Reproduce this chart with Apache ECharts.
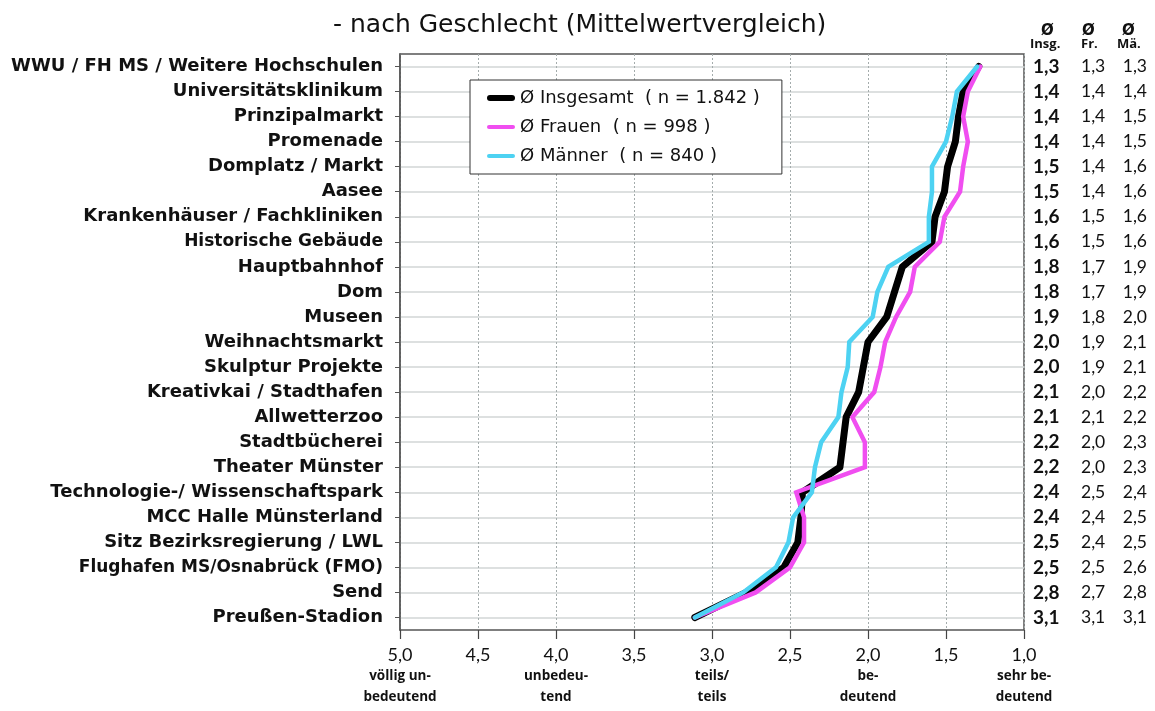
<!DOCTYPE html>
<html>
<head>
<meta charset="utf-8">
<script src="https://cdn.jsdelivr.net/npm/echarts@6/dist/echarts.min.js"></script>
<style>
  html, body { margin: 0; padding: 0; background: #fff; }
  #chart { width: 1155px; height: 711px; }
</style>
<title>Mittelwertvergleich</title>
</head>
<body>
<div id="chart"></div>
<script type="text/javascript">
// Kategorien von oben nach unten
var categories = ['WWU / FH MS / Weitere Hochschulen', 'Universitätsklinikum', 'Prinzipalmarkt', 'Promenade',
  'Domplatz / Markt', 'Aasee', 'Krankenhäuser / Fachkliniken', 'Historische Gebäude', 'Hauptbahnhof', 'Dom',
  'Museen', 'Weihnachtsmarkt', 'Skulptur Projekte', 'Kreativkai / Stadthafen', 'Allwetterzoo', 'Stadtbücherei',
  'Theater Münster', 'Technologie-/ Wissenschaftspark', 'MCC Halle Münsterland', 'Sitz Bezirksregierung / LWL',
  'Flughafen MS/Osnabrück (FMO)', 'Send', 'Preußen-Stadion'];

// Mittelwerte
var insgesamt = [1.29, 1.39, 1.42, 1.44, 1.49, 1.51, 1.57, 1.59, 1.78, 1.83, 1.88, 2.00, 2.03, 2.06, 2.14, 2.16, 2.18, 2.42, 2.43, 2.45, 2.54, 2.78, 3.11];
var frauen    = [1.28, 1.36, 1.39, 1.36, 1.39, 1.41, 1.51, 1.54, 1.70, 1.73, 1.82, 1.89, 1.92, 1.96, 2.10, 2.02, 2.02, 2.46, 2.41, 2.41, 2.50, 2.72, 3.11];
var maenner   = [1.30, 1.43, 1.46, 1.50, 1.59, 1.59, 1.61, 1.61, 1.87, 1.94, 1.97, 2.12, 2.13, 2.17, 2.19, 2.30, 2.34, 2.36, 2.48, 2.51, 2.59, 2.80, 3.11];

// Tabelle rechts
var tabInsg = ['1,3','1,4','1,4','1,4','1,5','1,5','1,6','1,6','1,8','1,8','1,9','2,0','2,0','2,1','2,1','2,2','2,2','2,4','2,4','2,5','2,5','2,8','3,1'];
var tabFr   = ['1,3','1,4','1,4','1,4','1,4','1,4','1,5','1,5','1,7','1,7','1,8','1,9','1,9','2,0','2,1','2,0','2,0','2,5','2,4','2,4','2,5','2,7','3,1'];
var tabMa   = ['1,3','1,4','1,5','1,5','1,6','1,6','1,6','1,6','1,9','1,9','2,0','2,1','2,1','2,2','2,2','2,3','2,3','2,4','2,5','2,5','2,6','2,8','3,1'];

var seriesNames = ['Ø Insgesamt  ( n = 1.842 )', 'Ø Frauen  ( n = 998 )', 'Ø Männer  ( n = 840 )'];
var tableHead = ['Insg.', 'Fr.', 'Mä.'];

// Skala
var scaleValues = [5, 4, 3, 2, 1];
var scaleTexts = ['völlig un-\nbedeutend', 'unbedeu-\ntend', 'teils/\nteils', 'be-\ndeutend', 'sehr be-\ndeutend'];

// zwei Beschriftungen sind im Original anders gesetzt
var labelStyles = {
  'Historische Gebäude': { fontSize: 17, letterSpacing: 0.2 },
  'Flughafen MS/Osnabrück (FMO)': { fontSize: 17, letterSpacing: 1.1 }
};

var colors = ['#000000', '#f04ef0', '#4dd2f2'];
var thick = 'path://M3,0 L25,0 A3,3 0 0 1 25,6 L3,6 A3,3 0 0 1 3,0 Z';
var thin = 'path://M2,0 L26,0 A2,2 0 0 1 26,4 L2,4 A2,2 0 0 1 2,0 Z';

var myChart = echarts.init(document.getElementById('chart'));

var yData = categories.map(function (c) {
  return labelStyles[c] ? { value: c, textStyle: labelStyles[c] } : c;
});

var option = {
  animation: false,
  backgroundColor: '#fff',
  title: {
    text: '- nach Geschlecht (Mittelwertvergleich)',
    left: 328, top: 8,
    textStyle: { fontFamily: 'DejaVu Sans', fontWeight: 'normal', fontSize: 25, color: '#111', letterSpacing: 2 }
  },
  legend: {
    orient: 'vertical',
    left: 470, top: 80,
    padding: [9, 22, 9, 17],
    itemGap: 11,
    itemWidth: 28, itemHeight: 16,
    backgroundColor: '#fff',
    borderColor: '#333', borderWidth: 1,
    textStyle: { fontFamily: 'DejaVu Sans', fontSize: 18, color: '#111' },
    data: [
      { name: seriesNames[0], icon: thick, itemStyle: { color: colors[0] } },
      { name: seriesNames[1], icon: thin, itemStyle: { color: colors[1] } },
      { name: seriesNames[2], icon: thin, itemStyle: { color: colors[2] } }
    ]
  },
  grid: { left: 400, right: 131, top: 54, bottom: 81, show: true, borderColor: '#555', borderWidth: 1.5, backgroundColor: '#fff' },
  xAxis: {
    type: 'value', min: 1, max: 5, interval: 0.5, inverse: true,
    axisLine: { lineStyle: { color: '#444', width: 1.5 } },
    axisTick: { show: true, length: 9, lineStyle: { color: '#444', width: 1.2 } },
    splitLine: { show: true, lineStyle: { color: '#a4acac', type: [2, 2], width: 1 } },
    axisLabel: {
      margin: 14,
      formatter: function (v) {
        var s = '{v|' + v.toFixed(1).replace('.', ',') + '}';
        var k = scaleValues.indexOf(v);
        if (k >= 0) {
          s += '\n' + scaleTexts[k].split('\n').map(function (t) { return '{d|' + t + '}'; }).join('\n');
        }
        return s;
      },
      rich: {
        v: { fontFamily: 'Lato', fontSize: 18, color: '#111', lineHeight: 22 },
        d: { fontFamily: 'Open Sans', fontWeight: 'bold', fontSize: 13.5, color: '#111', lineHeight: 21 }
      }
    }
  },
  yAxis: [{
    type: 'category', inverse: true, data: yData,
    axisLine: { lineStyle: { color: '#555', width: 1.5 } },
    axisTick: { show: true, alignWithLabel: true, length: 5, lineStyle: { color: '#555' } },
    splitLine: { show: true, alignWithLabel: true, lineStyle: { color: '#d2d6d6', width: 1.5 } },
    axisLabel: { margin: 17, fontFamily: 'DejaVu Sans', fontWeight: 'bold', fontSize: 18, color: '#111' }
  }, {
    type: 'category', inverse: true, data: categories, position: 'right',
    axisLine: { show: false }, axisTick: { show: false }, splitLine: { show: false },
    axisLabel: {
      margin: 9, align: 'left',
      formatter: function (v, i) {
        return '{a|' + tabInsg[i] + '}{b|' + tabFr[i] + '}{c|' + tabMa[i] + '}';
      },
      rich: {
        a: { fontFamily: 'Lato', fontWeight: 'bold', fontSize: 19, color: '#111', width: 48 },
        b: { fontFamily: 'Lato', fontSize: 17.5, color: '#111', width: 40 },
        c: { fontFamily: 'Lato', fontSize: 17.5, color: '#111', width: 26, align: 'right' }
      }
    }
  }],
  graphic: [
    { type: 'text', left: 1041, top: 24, style: { text: 'Ø', font: 'bold 15px "DejaVu Sans"', fill: '#111' } },
    { type: 'text', left: 1082, top: 24, style: { text: 'Ø', font: 'bold 15px "DejaVu Sans"', fill: '#111' } },
    { type: 'text', left: 1122, top: 24, style: { text: 'Ø', font: 'bold 15px "DejaVu Sans"', fill: '#111' } },
    { type: 'text', left: 1030, top: 38, style: { text: tableHead[0], font: 'bold 13px "Open Sans"', fill: '#111' } },
    { type: 'text', left: 1081, top: 38, style: { text: tableHead[1], font: 'bold 13px "Open Sans"', fill: '#111' } },
    { type: 'text', left: 1117, top: 38, style: { text: tableHead[2], font: 'bold 13px "Open Sans"', fill: '#111' } }
  ],
  series: [{
    name: seriesNames[0], type: 'line', data: insgesamt, symbol: 'none',
    lineStyle: { color: colors[0], width: 7, cap: 'round', join: 'round' }, itemStyle: { color: colors[0] }
  }, {
    name: seriesNames[1], type: 'line', data: frauen, symbol: 'none',
    lineStyle: { color: colors[1], width: 4.5, cap: 'round', join: 'miter' }, itemStyle: { color: colors[1] }
  }, {
    name: seriesNames[2], type: 'line', data: maenner, symbol: 'none',
    lineStyle: { color: colors[2], width: 4.5, cap: 'round', join: 'miter' }, itemStyle: { color: colors[2] }
  }]
};

myChart.setOption(option);
</script>
</body>
</html>
